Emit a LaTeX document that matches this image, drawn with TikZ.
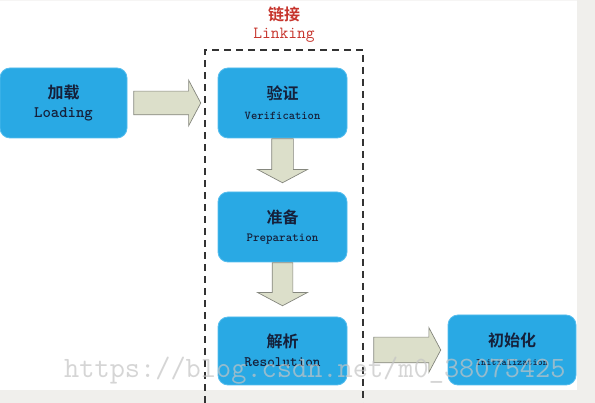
\documentclass[tikz,border=0pt]{standalone}
\usepackage{fontspec}
\usetikzlibrary{shapes.arrows,calc}
\newfontfamily\cnfont{Noto Sans CJK SC}[BoldFont={Noto Sans CJK SC Bold}]
\definecolor{boxblue}{HTML}{29A9E4}
\definecolor{boxedge}{HTML}{55BDEE}
\definecolor{arrowfill}{HTML}{DCDFCA}
\definecolor{arrowedge}{HTML}{85877E}
\definecolor{txt}{HTML}{15203A}
\definecolor{linkred}{HTML}{C7352D}
\definecolor{stripgrey}{HTML}{F0EFEC}
\definecolor{wmgrey}{HTML}{C4C4C4}
\tikzset{
  stagebox/.style={draw=boxedge, line width=0.8pt, fill=boxblue, rounded corners=10pt,
    minimum width=#1, minimum height=70pt, inner sep=0pt},
  stagebox/.default=129pt,
  cntext/.style={text=txt, font=\cnfont\bfseries\fontsize{16pt}{18pt}\selectfont, inner sep=0pt},
  entext/.style={text=txt, font=\ttfamily\bfseries\fontsize{#1}{#1}\selectfont, inner sep=0pt},
  blockarrow/.style={single arrow, draw=arrowedge, fill=arrowfill, line width=0.7pt,
    inner xsep=0pt, inner ysep=#1, single arrow tip angle=124},
}
\begin{document}
\begin{tikzpicture}[x=1pt,y=-1pt]
\useasboundingbox (0,0) rectangle (595,403);
\fill[white] (0,0) rectangle (595,403);
\fill[stripgrey] (577,0) rectangle (595,403);
\fill[stripgrey] (0,390) rectangle (595,403);
\fill[stripgrey!60] (0,0) rectangle (577,1.5);

% dashed Linking frame
\coordinate (fa) at (205,403);
\coordinate (fb) at (205,50);
\coordinate (fc) at (363,50);
\coordinate (fd) at (363,403);
\draw[dash pattern=on 7pt off 5pt, line width=1.3pt, draw=black!80] (fa) -- (fb) -- (fc) -- (fd);

\node[text=linkred, font=\cnfont\bfseries\fontsize{16pt}{18pt}\selectfont, inner sep=0pt] (linkcn) at (284,14) {链接};
\node[text=linkred, font=\ttfamily\fontsize{17pt}{17pt}\selectfont, inner sep=0pt] (linken) at (284,35) {Linking};

% stage boxes
\node[stagebox=127pt] (load) at (63.5,103) {};
\node[stagebox] (verify) at (282.5,103) {};
\node[stagebox] (prep) at (282.5,227) {};
\node[stagebox, minimum height=68pt] (resol) at (282.5,351) {};
\node[stagebox=128pt] (init) at (512,350) {};

\node[cntext] (loadcn) at ($(load.center)+(0,-11)$) {加载};
\node[entext=16pt] (loaden) at ($(load.center)+(0,11)$) {Loading};
\node[cntext] (verifycn) at ($(verify.center)+(0,-10)$) {验证};
\node[entext=12pt] (verifyen) at ($(verify.center)+(0,13)$) {Verification};
\node[cntext] (prepcn) at ($(prep.center)+(0,-10)$) {准备};
\node[entext=12.4pt] (prepen) at ($(prep.center)+(0,12)$) {Preparation};
\node[cntext] (resolcn) at ($(resol.center)+(0,-10)$) {解析};
\node[entext=14.5pt] (resolen) at ($(resol.center)+(0,11)$) {Resolution};
\node[cntext] (initcn) at ($(init.center)+(0,-10)$) {初始化};
\node[entext=9.8pt] (initen) at ($(init.center)+(0,13)$) {Initialization};

% block arrows between the stages
\node[blockarrow=11.5pt, minimum height=67pt, single arrow head extend=11pt,
  anchor=tail] (a1) at ($(load.east)+(6,0)$) {};
\node[blockarrow=10.5pt, rotate=-90, minimum height=44pt, single arrow head extend=14pt,
  anchor=tail] (a2) at (verify.south) {};
\node[blockarrow=10pt, rotate=-90, minimum height=43pt, single arrow head extend=14.5pt,
  anchor=tail] (a3) at (prep.south) {};
\node[blockarrow=12.5pt, minimum height=67pt, single arrow head extend=9.5pt,
  anchor=tail] (a4) at ($(resol.east)+(26,-1)$) {};

% watermark
\node[anchor=base west, inner sep=0pt, text=wmgrey, opacity=0.7,
  font=\ttfamily\fontsize{29.5pt}{29.5pt}\selectfont] (wm) at (64,378) {https://blog.csdn.net/m0\_38075425};
\end{tikzpicture}
\end{document}
